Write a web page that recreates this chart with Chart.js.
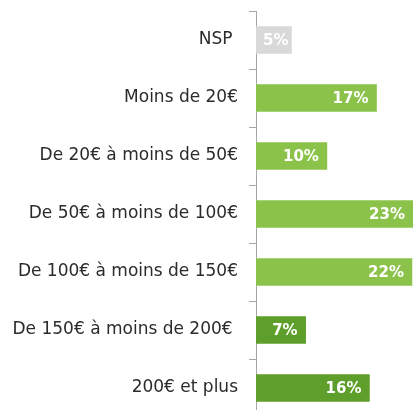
<!DOCTYPE html>
<html lang="fr">
  <head>
    <meta charset="utf-8" />
    <title>Budget</title>
    <style>
      * {
        margin: 0;
        padding: 0;
      }
      body {
        width: 413px;
        height: 410px;
        overflow: hidden;
        background: white;
      }
      #myChart {
        position: absolute;
        left: 0;
        top: 0;
      }
    </style>
  </head>
  <body>
    <canvas id="myChart" width="413" height="418"></canvas>

    <script src="https://cdn.jsdelivr.net/npm/chart.js"></script>

    <script>
      const categories = [
        "NSP ",
        "Moins de 20€",
        "De 20€ à moins de 50€",
        "De 50€ à moins de 100€",
        "De 100€ à moins de 150€",
        "De 150€ à moins de 200€ ",
        "200€ et plus",
      ];
      const values = [5, 17, 10, 23, 22, 7, 16];
      const barColors = [
        "#d9d9d9",
        "#8bc34a",
        "#8bc34a",
        "#8bc34a",
        "#8bc34a",
        "#5e9e2a",
        "#5e9e2a",
      ];

      const FONT = "'DejaVu Sans', sans-serif";

      // value labels, inside the bar end
      const valueLabels = {
        id: "valueLabels",
        afterDatasetsDraw(chart) {
          const { ctx, chartArea } = chart;
          const meta = chart.getDatasetMeta(0);
          ctx.save();
          ctx.font = "bold 15px " + FONT;
          ctx.fillStyle = "white";
          ctx.textAlign = "right";
          ctx.textBaseline = "middle";
          meta.data.forEach((bar, i) => {
            const text = values[i] + "%";
            const end = Math.min(bar.x, chartArea.right);
            // short bars: keep the label inside, pushed to the right
            const minRight = bar.base + ctx.measureText(text).width + 7;
            ctx.fillText(text, Math.max(end - 8, minRight), bar.y + 1);
          });
          ctx.restore();
        },
      };

      const config = {
        type: "bar",
        data: {
          labels: categories,
          datasets: [
            {
              data: values,
              backgroundColor: barColors,
              barThickness: 27,
            },
          ],
        },
        options: {
          indexAxis: "y",
          responsive: false,
          animation: false,
          layout: { padding: { top: 11, bottom: 1, left: 0, right: 0 } },
          plugins: {
            legend: { display: false },
            tooltip: { enabled: false },
          },
          scales: {
            x: {
              display: false,
              min: 0,
              max: 22.15,
            },
            y: {
              afterFit(scale) {
                scale.width = 256;
                // no extra room for half labels, the layout padding does it
                scale.paddingTop = 0;
                scale.paddingBottom = 0;
              },
              border: { display: true, color: "#a6a6a6", width: 1 },
              grid: {
                offset: true,
                drawOnChartArea: false,
                drawTicks: true,
                tickLength: 7,
                color: "#a6a6a6",
              },
              ticks: {
                padding: 11,
                color: "#2b2b2b",
                font: { family: FONT, size: 17 },
              },
            },
          },
        },
        plugins: [valueLabels],
      };

      const myChart = new Chart(document.getElementById("myChart"), config);
    </script>
  </body>
</html>
